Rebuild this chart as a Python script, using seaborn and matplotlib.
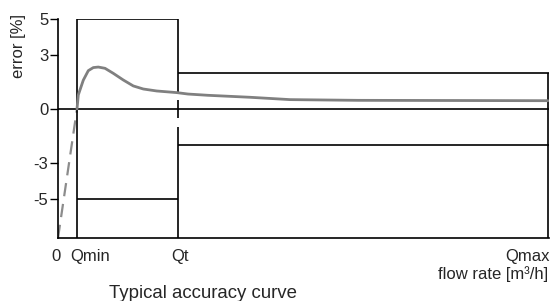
import matplotlib
matplotlib.use("Agg")
import matplotlib.pyplot as plt
import matplotlib.transforms as mtransforms
import seaborn as sns
import pandas as pd

# flow axis in arbitrary units (0 .. end of chart)
q_min = 1.9
q_t = 12.0
q_max = 45.4
q_end = 49.05

# maximum permissible error bands [%]
mpe_low_range = 5
mpe_high_range = 2

# typical curve, below Qmin (dashed) and above Qmin (solid)
flow_low = [0.0, 1.9]
err_low = [-7.17, 0.0]
flow_curve = [1.9, 2.03, 2.53, 3.03, 3.53, 4.03, 4.7, 5.53, 6.53, 7.53, 8.53,
              9.87, 11.87, 13.0, 15.0, 19.2, 23.2, 30.0, 40.0, 49.0]
err_curve = [0.0, 0.78, 1.6, 2.13, 2.3, 2.33, 2.26, 1.98, 1.61, 1.28, 1.11,
             1.0, 0.91, 0.83, 0.76, 0.65, 0.52, 0.48, 0.47, 0.46]

y_ticks = [5, 3, 0, -3, -5]
x_ticks = [0, q_min, q_t, q_max]
x_labels = ["0", "Qmin", "Qt", "Qmax"]

sns.set_style("ticks")
plt.rcParams['font.family'] = ['Liberation Sans', 'DejaVu Sans']

fig = plt.figure(figsize=(5.55, 3.01), dpi=100)
ax = fig.add_axes([58 / 555, 1 - 238 / 301, (548.5 - 58) / 555, (238 - 19) / 301])
ylo = -7.17

curve = pd.DataFrame({"flow": flow_curve, "err": err_curve})
low = pd.DataFrame({"flow": flow_low, "err": err_low})
sns.lineplot(data=low, x="flow", y="err", ax=ax, color="#8c8c8c", lw=1.6,
             linestyle=(0, (6, 3.5)), sort=False)
sns.lineplot(data=curve, x="flow", y="err", ax=ax, color="#808080", lw=2.0,
             sort=False, zorder=3)

lc = "black"
lw = 1.2
ax.axhline(0, color=lc, lw=lw, zorder=2)
# low flow band Qmin..Qt
ax.hlines([mpe_low_range, -mpe_low_range], q_min, q_t, color=lc, lw=lw)
ax.vlines(q_min, ylo, mpe_low_range, color=lc, lw=lw)
# Qt boundary, broken where the curve crosses it
qt_pieces = [(0.95, mpe_low_range), (-0.5, 0.5), (ylo, -1.0)]
for a, b in qt_pieces:
    ax.vlines(q_t, a, b, color=lc, lw=lw)
# high flow band Qt..end
ax.hlines([mpe_high_range, -mpe_high_range], q_t, q_end, color=lc, lw=lw)
ax.vlines(q_end - 0.05, ylo, mpe_high_range, color=lc, lw=lw)

ax.set_xlim(0, q_end)
ax.set_ylim(ylo, 5)
ax.set_yticks(y_ticks)
ax.set_yticklabels([str(t) for t in y_ticks], fontsize=12)
ax.tick_params(axis="y", length=6, width=1, pad=1, color=lc)
ax.set_xticks(x_ticks)
ax.set_xticklabels(x_labels, fontsize=12, ha="left")
ax.tick_params(axis="x", length=0, pad=8)
offset = mtransforms.ScaledTranslation(-7 / 100, 0, fig.dpi_scale_trans)
for lab in ax.get_xticklabels():
    lab.set_transform(lab.get_transform() + offset)

for s in ["top", "right"]:
    ax.spines[s].set_visible(False)
ax.spines["left"].set_linewidth(lw)
ax.spines["bottom"].set_linewidth(lw)
ax.spines["left"].set_color(lc)
ax.spines["bottom"].set_color(lc)
ax.set_xlabel("")
ax.set_ylabel("")

fig.text(18 / 555, 1 - 46 / 301, "error [%]", rotation=90, fontsize=12,
         ha="center", va="center")
fig.text(548 / 555, 1 - 274 / 301, "flow rate [m³/h]", fontsize=12,
         ha="right", va="center")
fig.text(203 / 555, 1 - 293 / 301, "Typical accuracy curve", fontsize=13.4,
         ha="center", va="center")

fig.savefig("out.png", dpi=100)
